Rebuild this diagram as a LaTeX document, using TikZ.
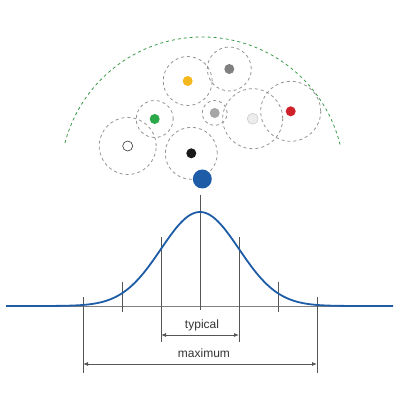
\documentclass[tikz,border=0pt]{standalone}
\usepackage{fontspec}
\setmainfont{Liberation Sans}
\usetikzlibrary{arrows.meta}
\definecolor{curveCol}{HTML}{1F5CA8}
\definecolor{rangeCol}{HTML}{3A9A4A}
\definecolor{lineCol}{HTML}{555555}
\definecolor{textCol}{HTML}{333333}
\definecolor{yellowCol}{HTML}{F5B81C}
\definecolor{redCol}{HTML}{D0202A}
\definecolor{greenCol}{HTML}{2AA84A}

\begin{document}
\begin{tikzpicture}[
    x=1pt, y=1pt,
    % Node styles
    zone/.style={
        circle,
        draw=gray!85,
        dashed,
        line width=0.8pt,
        inner sep=0pt,
        minimum size=#1
    },
    dot/.style={
        circle,
        fill=#1,
        inner sep=0pt,
        minimum size=10pt
    },
    tick/.style={
        line width=0.8pt,
        draw=lineCol
    },
    span/.style={
        <->,
        >={Latex[length=5pt,width=4pt]},
        line width=0.8pt,
        draw=lineCol
    },
    spanlabel/.style={
        font=\fontsize{12}{14}\selectfont,
        text=textCol
    }
]
    \useasboundingbox (0,0) rectangle (400,400);

    % ==== REACH CIRCLES ====
    \node[zone=49pt] (zyellow) at (187.7,319) {};
    \node[zone=44pt] (zdark) at (229.3,331) {};
    \node[zone=25pt] (zgrey) at (214.7,287) {};
    \node[zone=60pt] (zlight) at (252.7,281.3) {};
    \node[zone=60pt] (zred) at (290.7,288.7) {};
    \node[zone=37pt] (zgreen) at (154.7,281) {};
    \node[zone=57pt] (zwhite) at (127.7,254) {};
    \node[zone=52pt] (zblack) at (191.3,246.7) {};

    % ==== DOTS ====
    \node[dot=yellowCol] (yellow) at (zyellow) {};
    \node[dot=gray] (dark) at (zdark) {};
    \node[dot=gray!70] (grey) at (zgrey) {};
    \node[dot=gray!15, draw=gray!50, line width=0.4pt, minimum size=11pt] (light) at (zlight) {};
    \node[dot=redCol] (red) at (zred) {};
    \node[dot=greenCol] (green) at (zgreen) {};
    \node[dot=white, draw=black!80, line width=0.6pt] (white) at (zwhite) {};
    \node[dot=black!90] (black) at (zblack) {};
    \node[dot=curveCol, minimum size=19pt] (blue) at (202.3,221) {};

    % Outer range
    \draw[rangeCol, dashed, line width=0.8pt] (blue.center) ++(14:142) arc[start angle=14, end angle=166, radius=142];

    % ==== DISTRIBUTION ====
    \coordinate (axisL) at (6,94);
    \coordinate (axisR) at (393,94);
    \draw[draw=gray, line width=0.8pt] (axisL) -- (axisR);

    \coordinate (mid) at (200,205);
    \draw[tick] (mid) -- (200,90);
    \foreach \s/\top/\bot in {1/163/58, 2/118/88, 3/103/27} {
        \coordinate (l\s) at ({200-39*\s},\bot);
        \coordinate (r\s) at ({200+39*\s},\bot);
        \draw[tick] (l\s) -- ({200-39*\s},\top);
        \draw[tick] (r\s) -- ({200+39*\s},\top);
    }

    \draw[curveCol, line width=1.8pt] plot[domain=6:393, samples=160] (\x, {94 + 94*exp(-((\x-200)/39)^2/2)});

    % ==== RANGES ====
    \coordinate (typL) at (161,65);
    \coordinate (typR) at (239,65);
    \draw[span] (typL) -- (typR);
    \node[spanlabel] (typ) at (202,75) {typical};

    \coordinate (maxL) at (83,36);
    \coordinate (maxR) at (317,36);
    \draw[span] (maxL) -- (maxR);
    \node[spanlabel] (max) at (204,47) {maximum};

\end{tikzpicture}
\end{document}
